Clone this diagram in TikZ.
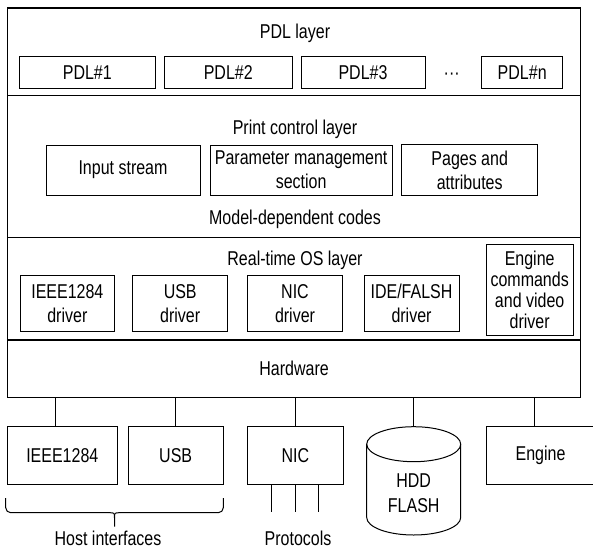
\documentclass[tikz,border=0pt]{standalone}
\usepackage{fontspec}
\setmainfont{Liberation Sans}[FakeStretch=0.8]
\usepackage{tikz}
\usetikzlibrary{positioning}
\tikzset{
  layerbox/.style={rectangle,draw,line width=1.2pt,minimum width=573.2pt,inner sep=0pt,outer sep=0pt},
  unitbox/.style={rectangle,draw,line width=1pt,inner sep=0pt,outer sep=0pt,align=center},
  devbox/.style={rectangle,draw,line width=1pt,inner sep=0pt,outer sep=0pt,minimum height=57.3pt,align=center},
  layertitle/.style={inner sep=0pt,anchor=base},
  wire/.style={line width=1pt}
}

\begin{document}
\begin{tikzpicture}[x=1pt,y=-1pt,font=\fontsize{20}{24}\selectfont]
  \useasboundingbox (0,0) rectangle (593,551);
  \node[layerbox,minimum height=87.7pt] (pdllayer) at (294.1,51.85) {};
  \node[layerbox,minimum height=142pt,below=0pt of pdllayer] (pclayer) {};
  \node[layerbox,minimum height=102.3pt,below=0pt of pclayer] (oslayer) {};
  \node[layerbox,minimum height=57.3pt,below=0pt of oslayer] (hwlayer) {Hardware};
  \node[layertitle] (pdltitle) at (295,38.5) {PDL layer};
  \node[layertitle] (pctitle) at (295,134) {Print control layer};
  \node[layertitle] (mdcodes) at (295,224.3) {Model-dependent codes};
  \node[layertitle] (ostitle) at (295,265.7) {Real-time OS layer};
  \node[unitbox,minimum width=136pt,minimum height=32.5pt] (pdl1) at (87.3,72.3) {PDL\#1};
  \node[unitbox,minimum width=128.5pt,minimum height=32.5pt,right=8.7pt of pdl1] (pdl2) {PDL\#2};
  \node[unitbox,minimum width=124pt,minimum height=32.5pt,right=8.5pt of pdl2] (pdl3) {PDL\#3};
  \node[unitbox,minimum width=81pt,minimum height=32.5pt,right=56.7pt of pdl3] (pdln) {PDL\#n};
  \node[layertitle] (pdldots) at (451.7,79) {···};
  \node[unitbox,minimum width=154pt,minimum height=50pt] (instream) at (123,170) {Input stream};
  \node[unitbox,minimum width=182.3pt,minimum height=50pt,right=10pt of instream] (parammgmt) {Parameter management\\section};
  \node[unitbox,minimum width=136pt,minimum height=51pt,right=9.4pt of parammgmt] (pages) {Pages and\\attributes};
  \node[unitbox,minimum width=94.7pt,minimum height=55.3pt] (drvieee) at (67.35,303.35) {IEEE1284\\driver};
  \node[unitbox,minimum width=95pt,minimum height=55.3pt,right=18pt of drvieee] (drvusb) {USB\\driver};
  \node[unitbox,minimum width=94.6pt,minimum height=55.3pt,right=20pt of drvusb] (drvnic) {NIC\\driver};
  \node[unitbox,minimum width=95pt,minimum height=55.3pt,right=21.7pt of drvnic] (drvide) {IDE/FALSH\\driver};
  \node[unitbox,minimum width=87.3pt,minimum height=90.7pt,font=\fontsize{20}{21}\selectfont] (drveng) at (529.65,289.65) {Engine\\commands\\and video\\driver};
  \node[devbox,minimum width=110pt] (devieee) at (62.3,455.35) {IEEE1284};
  \node[devbox,minimum width=95.3pt,right=10.7pt of devieee] (devusb) {USB};
  \node[devbox,minimum width=96pt,right=24pt of devusb] (devnic) {NIC};
  \node[inner sep=0pt,align=center,font=\fontsize{20}{25}\selectfont] (hdd) at (413.7,493) {HDD\\FLASH};
  \coordinate (hddtop) at (413.7,426.7);
  \node[devbox,minimum width=108.4pt] (engine) at (540.5,455.35) {Engine};
  \draw[wire] (366.7,444.2) -- (366.7,517.5) arc[start angle=180,end angle=360,x radius=47pt,y radius=17.5pt] -- (460.7,444.2);
  \draw[wire] (413.7,444.2) ellipse[x radius=47pt,y radius=17.5pt];
  \draw[wire] ([xshift=-6.6]devieee.north) -- ([xshift=-6.6]devieee.north |- hwlayer.south);
  \draw[wire] (devusb.north) -- (devusb.north |- hwlayer.south);
  \draw[wire] (devnic.north) -- (devnic.north |- hwlayer.south);
  \draw[wire] (hddtop) -- (hddtop |- hwlayer.south);
  \draw[wire] ([xshift=-6.5]engine.north) -- ([xshift=-6.5]engine.north |- hwlayer.south);
  \foreach \dx in {-24.3,-0.3,23}
    \draw[wire] ([xshift=\dx]devnic.south) -- ++(0,28.3);
  \draw[wire,rounded corners=5pt] (5.7,498) -- (5.7,512.7) -- (109,512.7);
  \draw[wire,rounded corners=5pt] (120,512.7) -- (223.3,512.7) -- (223.3,498);
  \draw[wire] (109,512.7) .. controls (114.5,512.7) .. (114.5,518) -- (114.5,526.7);
  \draw[wire] (120,512.7) .. controls (114.5,512.7) .. (114.5,518);
  \node[layertitle] (hostif) at (108,545.5) {Host interfaces};
  \node[layertitle] (protocols) at (298,545.5) {Protocols};
\end{tikzpicture}
\end{document}
